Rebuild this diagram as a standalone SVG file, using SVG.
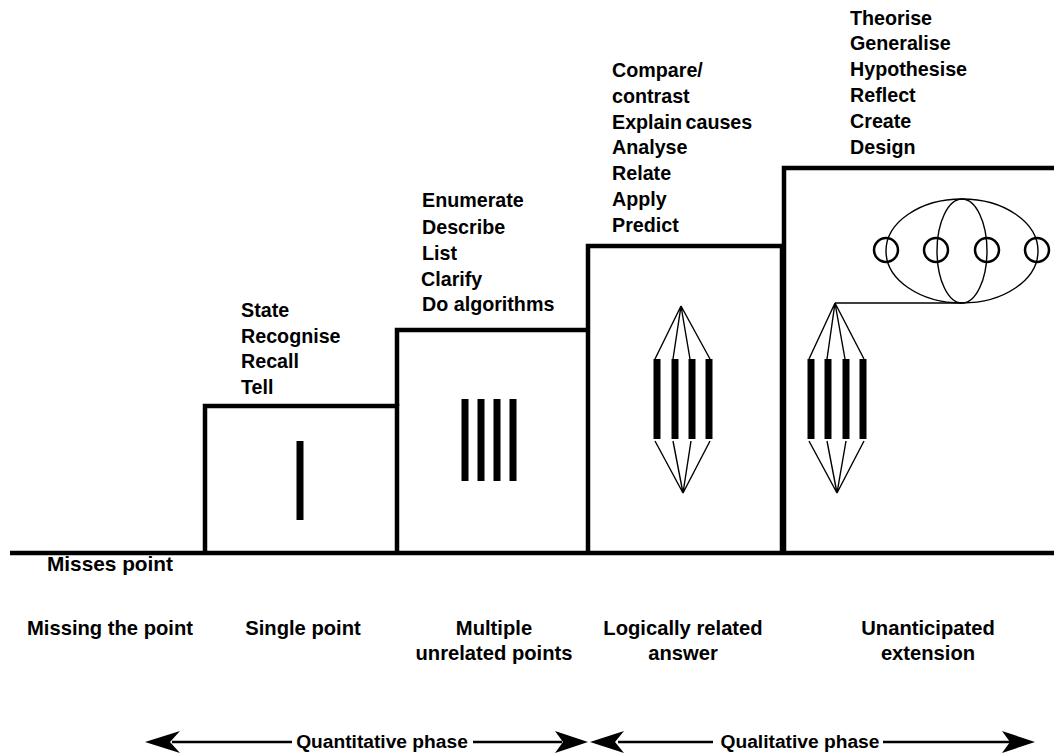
<svg xmlns="http://www.w3.org/2000/svg" width="1054" height="756" viewBox="0 0 1054 756">
<style>
text{font-family:"Liberation Sans",Arial,sans-serif;font-weight:bold;font-size:19.7px;fill:#000}
.c{text-anchor:middle}
.lbl{font-size:20.2px}
.ph{font-size:19.2px}
.box{fill:none;stroke:#000;stroke-width:4.5;stroke-linejoin:miter}
.bar{stroke:#000;stroke-width:7;fill:none}
.thin{stroke:#000;stroke-width:1.4;fill:none}
.arr{stroke:#000;stroke-width:2.5;fill:none}
.head{fill:#000}
.ring{fill:none;stroke:#000;stroke-width:2.5}
</style>
<rect width="1054" height="756" fill="#fff"/>
<g id="baseline">
<line x1="10" y1="553" x2="1054" y2="553" class="box"/>
<text x="47" y="571" style="font-size:20.8px">Misses point</text>
<text x="110" y="635" class="c lbl">Missing the point</text>
</g>
<g id="single-point">
<path d="M205,553 V406 H397 V553" class="box"/>
<line x1="300" y1="441" x2="300" y2="520" class="bar"/>
<text x="241" y="317">State</text>
<text x="241" y="343">Recognise</text>
<text x="241" y="368">Recall</text>
<text x="241" y="394">Tell</text>
<text x="303" y="635" class="c lbl">Single point</text>
</g>
<g id="multiple-points">
<path d="M397,406 V330 H588" class="box"/>
<line x1="465" y1="399" x2="465" y2="481" class="bar"/>
<line x1="481" y1="399" x2="481" y2="481" class="bar"/>
<line x1="497" y1="399" x2="497" y2="481" class="bar"/>
<line x1="513" y1="399" x2="513" y2="481" class="bar"/>
<text x="422" y="207">Enumerate</text>
<text x="422" y="234">Describe</text>
<text x="422" y="260">List</text>
<text x="421" y="286">Clarify</text>
<text x="422" y="311">Do algorithms</text>
<text x="494" y="635" class="c lbl">Multiple</text>
<text x="494" y="660" class="c lbl">unrelated points</text>
</g>
<g id="logically-related">
<path d="M588,553 V246 H782 V553" class="box"/>
<line x1="657" y1="359" x2="657" y2="439" class="bar"/>
<line x1="675" y1="359" x2="675" y2="439" class="bar"/>
<line x1="692" y1="359" x2="692" y2="439" class="bar"/>
<line x1="709" y1="359" x2="709" y2="439" class="bar"/>
<path d="M655,359 L681,306 L673,359 M681,306 L690,359 M681,306 L710,359" class="thin"/>
<path d="M655,441 L683,493 L673,441 M683,493 L691,441 M683,493 L710,441" class="thin"/>
<text x="612" y="77">Compare/</text>
<text x="612" y="103">contrast</text>
<text x="612" y="129" style="word-spacing:-2px">Explain causes</text>
<text x="612" y="154">Analyse</text>
<text x="612" y="180">Relate</text>
<text x="612" y="206">Apply</text>
<text x="612" y="232">Predict</text>
<text x="683" y="635" class="c lbl">Logically related</text>
<text x="683" y="660" class="c lbl">answer</text>
</g>
<g id="extension">
<path d="M784,553 V168 H1054" class="box"/>
<ellipse cx="962" cy="251" rx="76" ry="52" class="thin"/>
<ellipse cx="962" cy="251" rx="25" ry="52" class="thin"/>
<circle cx="886" cy="250" r="12" class="ring"/>
<circle cx="936" cy="250" r="12" class="ring"/>
<circle cx="987" cy="250" r="12" class="ring"/>
<circle cx="1037" cy="250" r="12" class="ring"/>
<line x1="835" y1="303" x2="962" y2="303" class="thin"/>
<line x1="811" y1="359" x2="811" y2="439" class="bar"/>
<line x1="828" y1="359" x2="828" y2="439" class="bar"/>
<line x1="846" y1="359" x2="846" y2="439" class="bar"/>
<line x1="863" y1="359" x2="863" y2="439" class="bar"/>
<path d="M809,359 L835,303 L827,359 M835,303 L845,359 M835,303 L864,359" class="thin"/>
<path d="M809,441 L837,493 L827,441 M837,493 L846,441 M837,493 L864,441" class="thin"/>
<text x="850" y="25">Theorise</text>
<text x="850" y="50">Generalise</text>
<text x="850" y="76">Hypothesise</text>
<text x="850" y="102">Reflect</text>
<text x="850" y="128">Create</text>
<text x="850" y="154">Design</text>
<text x="928" y="635" class="c lbl">Unanticipated</text>
<text x="928" y="660" class="c lbl">extension</text>
</g>
<g id="connectors">
<line x1="172" y1="742" x2="292" y2="742" class="arr"/>
<line x1="473" y1="742" x2="562" y2="742" class="arr"/>
<polygon points="145,742 180,731 170,742 180,753" class="head"/>
<polygon points="588,742 555,731 563,742 555,753" class="head"/>
<text x="382" y="748" class="c ph">Quantitative phase</text>
<line x1="618" y1="742" x2="713" y2="742" class="arr"/>
<line x1="883" y1="742" x2="1010" y2="742" class="arr"/>
<polygon points="590,742 624,731 615,742 624,753" class="head"/>
<polygon points="1035,742 1002,731 1010,742 1002,753" class="head"/>
<text x="800" y="748" class="c ph">Qualitative phase</text>
</g>
</svg>
